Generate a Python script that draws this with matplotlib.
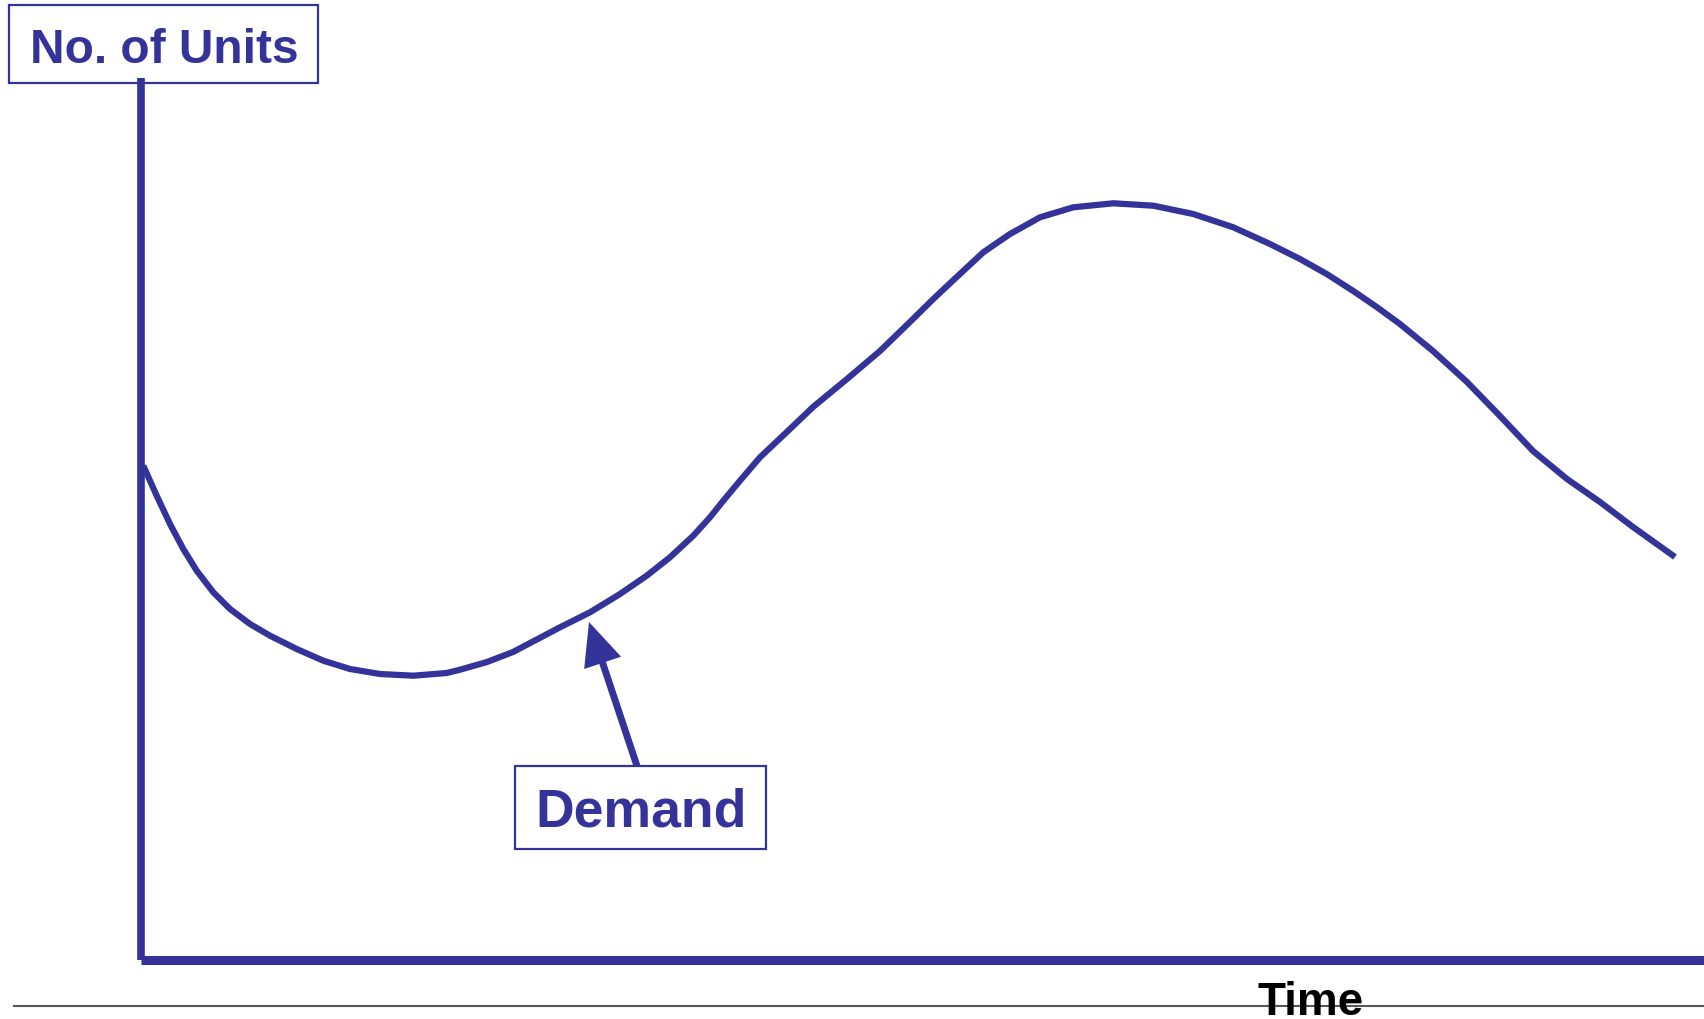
import matplotlib
matplotlib.use("Agg")
import matplotlib.pyplot as plt
from matplotlib.patches import Rectangle, FancyArrowPatch

# Demand curve (time vs. number of units)
time = [0.23, 1.57, 2.9, 4.23, 5.57, 7.23, 8.9, 10.9, 12.9, 15.57, 18.23,
        20.9, 23.9, 27.23, 30.57, 31.9, 34.6, 37.2, 41.9, 44.9, 47.9, 50.57,
        52.9, 55.23, 56.9, 58.23, 59.9, 61.9, 64.9, 67.2, 70.6, 73.9, 77.2,
        79.23, 81.57, 84.23, 86.9, 89.9, 93.23, 97.23, 101.23, 105.23, 109.23,
        112.9, 115.9, 118.57, 121.23, 123.57, 125.9, 129.2, 132.6, 135.9,
        139.2, 142.6, 145.9, 149.2, 153.4]
units = [49.33, 46.33, 43.5, 41.0, 38.83, 36.67, 35.0, 33.5, 32.33, 31.0, 29.83,
         29.0, 28.5, 28.33, 28.6, 28.93, 29.7, 30.7, 33.17, 34.67, 36.5, 38.33,
         40.17, 42.33, 44.17, 45.83, 47.83, 50.17, 53.0, 55.2, 58.0, 60.8, 64.0,
         66.0, 68.2, 70.67, 72.5, 74.17, 75.17, 75.57, 75.33, 74.5, 73.17,
         71.5, 70.0, 68.5, 66.8, 65.2, 63.5, 60.8, 57.7, 54.3,
         50.8, 48.0, 45.7, 43.2, 40.2]

y_label = "No. of Units"
x_label = "Time"
curve_label = "Demand"

BLUE = "#333399"
FONT = "Liberation Sans"

fig = plt.figure(figsize=(17.04, 10.2), dpi=100)
ax = fig.add_axes([0, 0, 1, 1])
ax.set_xlim(-14.1, 156.3)
ax.set_ylim(-6.0, 96.0)
ax.axis("off")

# thin grey rule at the bottom
ax.plot([-12.8, 156.3], [-4.7, -4.7], color="#555555", lw=1.5,
        solid_capstyle="butt", zorder=1)

# axes
ax.plot([0, 0], [-0.05, 88.1], color=BLUE, lw=5.5, solid_capstyle="butt", zorder=4)
ax.plot([0, 156.3], [-0.05, -0.05], color=BLUE, lw=6.5, solid_capstyle="butt", zorder=4)

# demand curve
ax.plot(time, units, color=BLUE, lw=4.5, solid_capstyle="butt",
        solid_joinstyle="round", zorder=3)

# y label box
ax.add_patch(Rectangle((-13.2, 87.6), 30.9, 7.8, fill=False, edgecolor=BLUE,
                       lw=1.6, zorder=2))
ax.text(2.35, 89.7, y_label, color=BLUE, fontsize=34.5, fontweight="bold",
        family=FONT, ha="center", va="baseline", zorder=5)

# Demand box
ax.add_patch(Rectangle((37.4, 11.0), 25.1, 8.3, fill=False, edgecolor=BLUE,
                       lw=1.6, zorder=2))
ax.text(50.0, 13.3, curve_label, color=BLUE, fontsize=38.5, fontweight="bold",
        family=FONT, ha="center", va="baseline", zorder=5)

# arrow from the Demand box to the curve
arr = FancyArrowPatch((49.6, 19.3), (44.8, 33.7),
                      arrowstyle="simple,head_length=31,head_width=28,tail_width=5",
                      mutation_scale=1, shrinkA=0, shrinkB=0,
                      color=BLUE, lw=0, zorder=5)
ax.add_patch(arr)

# x label
ax.text(111.7, -5.5, x_label, color="black", fontsize=33, fontweight="bold",
        family=FONT, ha="left", va="baseline", zorder=5)

fig.savefig("out.png", dpi=100, facecolor="white")
